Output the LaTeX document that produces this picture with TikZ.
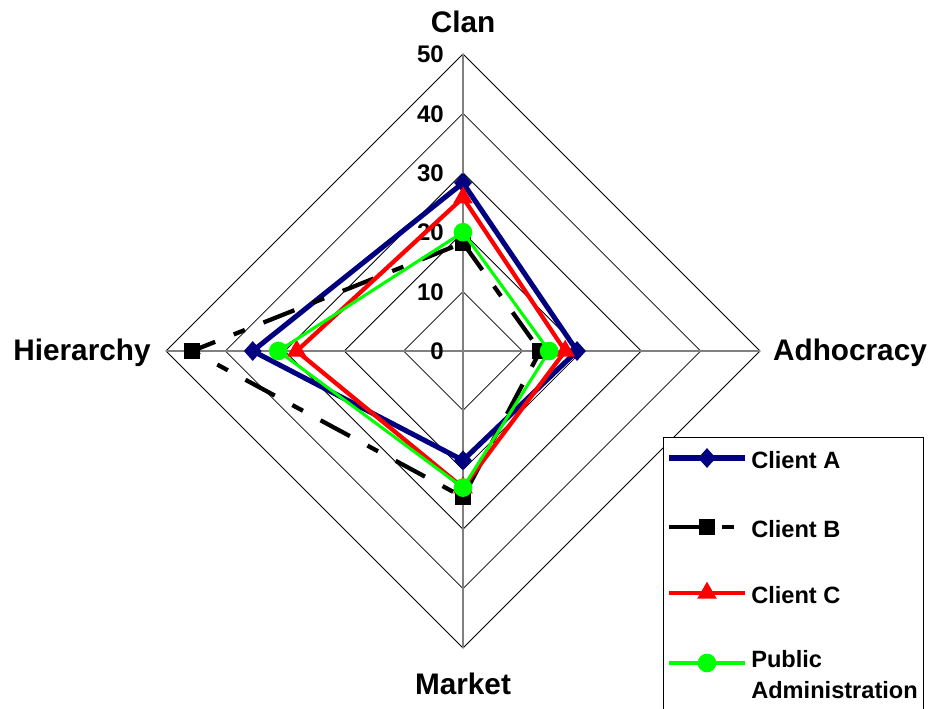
\documentclass[tikz,border=0pt]{standalone}
\usepackage{fontspec}
\setmainfont{Liberation Sans}
\usetikzlibrary{shapes.geometric}
\definecolor{serA}{RGB}{0,0,128}
\definecolor{serB}{RGB}{0,0,0}
\definecolor{serC}{RGB}{255,0,0}
\definecolor{serP}{RGB}{0,255,0}
\definecolor{spokegray}{RGB}{128,128,128}

\begin{document}
\begin{tikzpicture}[x=0.75pt,y=-0.75pt,
  ring/.style={black,line width=0.6pt},
  spoke/.style={spokegray,line width=0.8pt},
  axislabel/.style={font=\fontsize{22.3}{25}\selectfont\bfseries,inner sep=0pt},
  ticklabel/.style={font=\fontsize{18}{20}\selectfont\bfseries,inner sep=0pt,anchor=base east},
  legendtext/.style={font=\fontsize{17.7}{23.5}\selectfont\bfseries,inner sep=0pt,anchor=west,align=left},
  lineA/.style={serA,line width=3.8pt,line join=miter},
  lineB/.style={serB,line width=3.2pt,dash pattern=on 25pt off 15pt on 9pt off 15pt},
  lineC/.style={serC,line width=3.2pt,line join=miter},
  lineP/.style={serP,line width=2.3pt},
  markA/.style={diamond,fill=serA,inner sep=0pt,minimum width=13.5pt,minimum height=15pt},
  markB/.style={rectangle,fill=serB,inner sep=0pt,minimum size=12pt},
  markC/.style={regular polygon,regular polygon sides=3,fill=serC,inner sep=0pt,minimum size=17pt},
  markP/.style={circle,fill=serP,inner sep=0pt,minimum size=14pt}]
\useasboundingbox (0,0) rectangle (931,708);
\fill[white] (0,0) rectangle (931,708);

% concentric rings at 10..50, 5.94 px per unit, centre (463,351)
\foreach \v in {10,20,30,40,50}{
  \draw[ring] (463,{351-5.94*\v}) -- ({463+5.94*\v},351) -- (463,{351+5.94*\v}) -- ({463-5.94*\v},351) -- cycle;
}
% spokes
\draw[spoke] (463,54) -- (463,648);
\draw[spoke] (166,351) -- (760,351);

% scale labels
\foreach \v in {0,10,20,30,40,50}{
  \node[ticklabel] (t\v) at (444,{351-5.94*\v+8.6}) {\v};
}

% axis labels
\node[axislabel,anchor=base] (clan) at (463,32) {Clan};
\node[axislabel,anchor=base] (adho) at (850,360) {Adhocracy};
\node[axislabel,anchor=base] (mark) at (463,694) {Market};
\node[axislabel,anchor=base] (hier) at (82,360) {Hierarchy};

% data points: clan (up), adhocracy (right), market (down), hierarchy (left)
\coordinate (a1) at (463,{351-5.94*28.3});
\coordinate (a2) at ({463+5.94*19.2},351);
\coordinate (a3) at (463,{351+5.94*18.4});
\coordinate (a4) at ({463-5.94*35.4},351);

\coordinate (b1) at (463,{351-5.94*18.2});
\coordinate (b2) at ({463+5.94*13.0},351);
\coordinate (b3) at (463,{351+5.94*24.6});
\coordinate (b4) at ({463-5.94*45.6},351);

\coordinate (c1) at (463,{351-5.94*25.8});
\coordinate (c2) at ({463+5.94*17.2},351);
\coordinate (c3) at (463,{351+5.94*23.0});
\coordinate (c4) at ({463-5.94*28.0},351);

\coordinate (p1) at (463,{351-5.94*20.0});
\coordinate (p2) at ({463+5.94*14.5},351);
\coordinate (p3) at (463,{351+5.94*23.0});
\coordinate (p4) at ({463-5.94*31.1},351);

% Client A
\draw[lineA] (a1) -- (a2) -- (a3) -- (a4) -- cycle;
\foreach \i in {1,2,3,4}{\node[markA] (ma\i) at (a\i) {};}
% Client B
\draw[lineB] (b1) -- (b2) -- (b3) -- (b4) -- cycle;
\foreach \i in {1,2,3,4}{\node[markB] (mb\i) at (b\i) {};}
% Client C
\draw[lineC] (c1) -- (c2) -- (c3) -- (c4) -- cycle;
\foreach \i in {1,2,3,4}{\node[markC] (mc\i) at (c\i) {};}
% Public Administration
\draw[lineP] (p1) -- (p2) -- (p3) -- (p4) -- cycle;
\foreach \i in {1,2,3,4}{\node[markP] (mp\i) at (p\i) {};}

% legend
\draw[fill=white,line width=0.6pt] (663,720) -- (663,437) -- (923,437) -- (923,720);
\coordinate (la0) at (669,458); \coordinate (la1) at (745,458);
\coordinate (lb0) at (669,527); \coordinate (lb1) at (745,527);
\coordinate (lc0) at (669,593); \coordinate (lc1) at (745,593);
\coordinate (lp0) at (669,663); \coordinate (lp1) at (745,663);
\draw[lineA] (la0) -- (la1); \node[markA] (lma) at (707,458) {};
\draw[lineB] (lb0) -- (lb1); \node[markB] (lmb) at (707,527) {};
\draw[lineC] (lc0) -- (lc1); \node[markC] (lmc) at (707,593) {};
\draw[lineP] (lp0) -- (lp1); \node[markP] (lmp) at (707,663) {};
\node[legendtext] (ta) at (751,460) {Client A};
\node[legendtext] (tb) at (751,529) {Client B};
\node[legendtext] (tc) at (751,595) {Client C};
\node[legendtext,anchor=north west] (tp) at (751,650) {Public\\Administration};
\end{tikzpicture}
\end{document}
